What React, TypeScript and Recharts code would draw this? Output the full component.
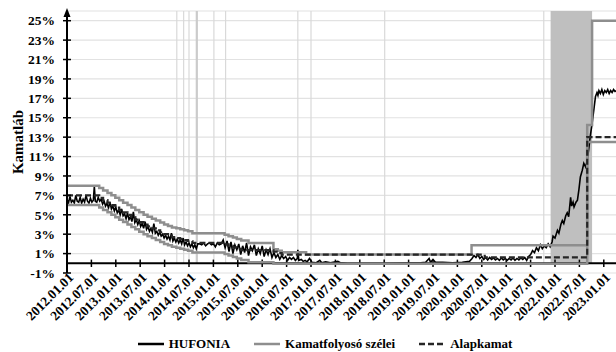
import React from "react";
import {
  LineChart,
  Line,
  XAxis,
  YAxis,
  CartesianGrid,
  Legend,
  ReferenceLine,
  ReferenceArea,
  ReferenceDot,
} from "recharts";

document.body.style.margin = "0";

const FONT = '"Liberation Serif", "Times New Roman", serif';

const tickLabels = [
  "2012.01.01", "2012.07.01", "2013.01.01", "2013.07.01", "2014.01.01", "2014.07.01",
  "2015.01.01", "2015.07.01", "2016.01.01", "2016.07.01", "2017.01.01", "2017.07.01",
  "2018.01.01", "2018.07.01", "2019.01.01", "2019.07.01", "2020.01.01", "2020.07.01",
  "2021.01.01", "2021.07.01", "2022.01.01", "2022.07.01", "2023.01.01",
];
const tickValues = tickLabels.map(
  (s) => Number(s.slice(0, 4)) + (s.slice(5, 7) === "07" ? 0.5 : 0)
);
const yTicks = [-1, 1, 3, 5, 7, 9, 11, 13, 15, 17, 19, 21, 23, 25];
const seriesOrder = ["HUFONIA", "Kamatfolyosó szélei", "Alapkamat"];

// thin vertical marker lines and the shaded period
const markerLines = [2014.25, 2014.39, 2014.5, 2015.01, 2015.25, 2016.73, 2017.0, 2018.51, 2021.77];
const markerBold = 2014.66;
const shadeFrom = 2021.91;
const shadeTo = 2022.76;

// HUFONIA [time, %]
const hufonia: [number, number][] = [
  [2012.0, 6.6], [2012.03, 6.2], [2012.06, 6.9], [2012.09, 6.3], [2012.12, 6.5], [2012.15, 6.2],
  [2012.18, 7.0], [2012.21, 6.4], [2012.24, 6.3], [2012.27, 6.8], [2012.3, 6.2], [2012.33, 6.6],
  [2012.36, 6.3], [2012.39, 7.0], [2012.42, 6.4], [2012.45, 6.2], [2012.48, 6.7], [2012.51, 6.3],
  [2012.54, 6.5], [2012.56, 7.9], [2012.58, 6.4], [2012.61, 6.3], [2012.64, 6.8], [2012.67, 6.4],
  [2012.7, 6.6], [2012.73, 6.1], [2012.76, 6.4], [2012.79, 5.9], [2012.82, 6.2], [2012.85, 5.7],
  [2012.88, 6.3], [2012.91, 5.6], [2012.94, 5.9], [2012.97, 5.4], [2013.0, 5.8], [2013.03, 5.2],
  [2013.06, 5.5], [2013.09, 5.0], [2013.12, 5.6], [2013.15, 4.9], [2013.18, 5.1], [2013.21, 4.6],
  [2013.24, 5.2], [2013.27, 4.5], [2013.3, 4.8], [2013.33, 4.3], [2013.36, 5.3], [2013.39, 4.2],
  [2013.42, 4.5], [2013.45, 4.0], [2013.48, 4.4], [2013.51, 3.8], [2013.54, 4.1], [2013.57, 3.6],
  [2013.6, 4.3], [2013.63, 3.5], [2013.66, 3.8], [2013.69, 3.3], [2013.72, 3.6], [2013.75, 3.2],
  [2013.78, 4.1], [2013.81, 3.1], [2013.84, 3.3], [2013.87, 2.9], [2013.9, 3.2], [2013.93, 2.8],
  [2013.96, 3.0], [2013.99, 2.6], [2014.02, 2.9], [2014.05, 2.5], [2014.08, 2.8], [2014.11, 2.4],
  [2014.14, 3.1], [2014.17, 2.3], [2014.2, 2.6], [2014.23, 2.2], [2014.26, 2.5], [2014.29, 2.1],
  [2014.32, 2.4], [2014.35, 2.0], [2014.38, 2.6], [2014.41, 1.9], [2014.44, 2.2], [2014.47, 1.8],
  [2014.5, 2.1], [2014.53, 1.7], [2014.56, 2.0], [2014.59, 1.6], [2014.62, 1.9], [2014.65, 1.5],
  [2014.68, 2.0], [2014.72, 2.0], [2014.76, 1.9], [2014.8, 2.1], [2014.84, 1.8], [2014.88, 2.0],
  [2014.92, 2.1], [2014.96, 1.9], [2015.0, 2.0], [2015.04, 1.7], [2015.08, 2.1], [2015.12, 1.9],
  [2015.16, 2.0], [2015.2, 2.4], [2015.24, 1.6], [2015.28, 2.3], [2015.32, 1.2], [2015.36, 2.2],
  [2015.4, 1.0], [2015.44, 1.9], [2015.48, 1.4], [2015.52, 2.0], [2015.56, 0.9], [2015.6, 1.8],
  [2015.64, 1.1], [2015.68, 2.1], [2015.72, 0.8], [2015.76, 1.7], [2015.8, 1.3], [2015.84, 1.9],
  [2015.88, 0.8], [2015.92, 1.5], [2015.96, 1.0], [2016.0, 1.8], [2016.04, 0.7], [2016.08, 1.4],
  [2016.12, 0.9], [2016.16, 1.5], [2016.2, 0.6], [2016.24, 1.1], [2016.28, 0.6], [2016.32, 0.9],
  [2016.36, 0.4], [2016.4, 0.8], [2016.44, 0.5], [2016.48, 0.7], [2016.52, 0.3], [2016.56, 0.6],
  [2016.6, 0.4], [2016.64, 0.6], [2016.68, 0.3], [2016.72, 0.5], [2016.73, 1.4], [2016.75, 0.3],
  [2016.8, 0.4], [2016.84, 0.2], [2016.88, 0.3], [2016.92, 0.15], [2016.97, 0.5], [2017.02, 0.1],
  [2017.1, 0.05], [2017.18, 0.3], [2017.22, 0.05], [2017.3, 0.15], [2017.4, 0.05], [2017.55, 0.2],
  [2017.6, 0.05], [2017.75, -0.05], [2018.5, -0.05], [2019.25, 0.05], [2019.35, 0.1], [2019.42, 0.5],
  [2019.45, 0.1], [2019.5, 0.4], [2019.55, 0.1], [2019.7, 0.1], [2019.9, 0.05], [2020.1, 0.1],
  [2020.25, 0.2], [2020.3, 0.5], [2020.34, 0.8], [2020.38, 0.6], [2020.42, 0.9], [2020.46, 0.5],
  [2020.5, 0.7], [2020.54, 0.4], [2020.58, 0.6], [2020.62, 0.35], [2020.66, 0.6], [2020.7, 0.4],
  [2020.74, 0.55], [2020.78, 0.35], [2020.82, 0.5], [2020.86, 0.3], [2020.9, 0.55], [2020.94, 0.35],
  [2020.98, 0.5], [2021.02, 0.3], [2021.06, 0.5], [2021.1, 0.35], [2021.14, 0.55], [2021.18, 0.3],
  [2021.22, 0.5], [2021.26, 0.35], [2021.3, 0.55], [2021.34, 0.4], [2021.38, 0.6], [2021.42, 0.3],
  [2021.46, 0.7], [2021.5, 0.9], [2021.54, 1.3], [2021.58, 1.1], [2021.62, 1.6], [2021.66, 1.3],
  [2021.7, 1.9], [2021.74, 1.5], [2021.78, 1.8], [2021.82, 1.6], [2021.86, 2.0], [2021.9, 1.7],
  [2021.94, 2.2], [2021.96, 2.8], [2022.0, 2.6], [2022.05, 3.4], [2022.08, 3.1], [2022.12, 4.0],
  [2022.15, 4.4], [2022.18, 4.1], [2022.22, 4.9], [2022.25, 5.2], [2022.28, 4.8], [2022.32, 6.8],
  [2022.34, 5.9], [2022.37, 6.3], [2022.39, 5.8], [2022.43, 6.3], [2022.46, 6.5], [2022.49, 7.6],
  [2022.52, 8.9], [2022.56, 9.6], [2022.59, 10.3], [2022.63, 9.9], [2022.66, 10.6], [2022.69, 11.7],
  [2022.72, 13.0], [2022.76, 14.4], [2022.8, 16.0], [2022.83, 17.2], [2022.86, 17.6], [2022.88, 17.3],
  [2022.9, 17.8], [2022.93, 17.5], [2022.96, 17.9], [2022.99, 17.4], [2023.02, 17.8], [2023.05, 17.6],
  [2023.08, 17.9], [2023.11, 17.5], [2023.14, 17.8], [2023.17, 17.6], [2023.2, 17.9], [2023.23, 17.7],
  [2023.26, 17.8],
];

// interest rate corridor, upper edge
const corridorUpper: [number, number][] = [
  [2012.0, 8.0], [2012.66, 7.75], [2012.74, 7.5], [2012.83, 7.25], [2012.91, 7.0], [2012.99, 6.75],
  [2013.07, 6.5], [2013.15, 6.25], [2013.24, 6.0], [2013.32, 5.75], [2013.4, 5.5], [2013.48, 5.25],
  [2013.57, 5.0], [2013.65, 4.8], [2013.74, 4.6], [2013.82, 4.4], [2013.91, 4.2], [2013.99, 4.0],
  [2014.07, 3.85], [2014.15, 3.7], [2014.24, 3.6], [2014.32, 3.5], [2014.4, 3.4], [2014.48, 3.3],
  [2014.57, 3.1], [2015.23, 2.95], [2015.31, 2.8], [2015.4, 2.65], [2015.48, 2.5], [2015.57, 2.35],
  [2015.72, 2.1], [2016.23, 1.45], [2016.32, 1.3], [2016.4, 1.15], [2016.9, 0.9], [2020.29, 1.85],
  [2022.66, 14.25], [2022.76, 25.0], [2023.3, 25.0],
];

// interest rate corridor, lower edge
const corridorLower: [number, number][] = [
  [2012.0, 6.0], [2012.66, 5.75], [2012.74, 5.5], [2012.83, 5.25], [2012.91, 5.0], [2012.99, 4.75],
  [2013.07, 4.5], [2013.15, 4.25], [2013.24, 4.0], [2013.32, 3.75], [2013.4, 3.5], [2013.48, 3.25],
  [2013.57, 3.0], [2013.65, 2.8], [2013.74, 2.6], [2013.82, 2.4], [2013.91, 2.2], [2013.99, 2.0],
  [2014.07, 1.85], [2014.15, 1.7], [2014.24, 1.6], [2014.32, 1.5], [2014.4, 1.4], [2014.48, 1.3],
  [2014.57, 1.1], [2015.23, 0.95], [2015.31, 0.8], [2015.4, 0.65], [2015.48, 0.5], [2015.57, 0.35],
  [2015.72, 0.1], [2016.23, -0.05], [2022.66, 12.5], [2023.3, 12.5],
];

// base rate
const baseRate: [number, number][] = [
  [2012.0, 7.0], [2012.66, 6.75], [2012.74, 6.5], [2012.83, 6.25], [2012.91, 6.0], [2012.99, 5.75],
  [2013.07, 5.5], [2013.15, 5.25], [2013.24, 5.0], [2013.32, 4.75], [2013.4, 4.5], [2013.48, 4.25],
  [2013.57, 4.0], [2013.65, 3.8], [2013.74, 3.6], [2013.82, 3.4], [2013.91, 3.2], [2013.99, 3.0],
  [2014.07, 2.85], [2014.15, 2.7], [2014.24, 2.6], [2014.32, 2.5], [2014.4, 2.4], [2014.48, 2.3],
  [2014.57, 2.1], [2015.23, 1.95], [2015.31, 1.8], [2015.4, 1.65], [2015.48, 1.5], [2015.57, 1.35],
  [2016.23, 1.2], [2016.32, 1.05], [2016.4, 0.9], [2020.56, 0.6], [2022.66, 13.0], [2023.3, 13.0],
];

const toRows = (pts: [number, number][]) => pts.map(([t, v]) => ({ t, v }));

const XTick = (props: any) => {
  const { x, y, payload } = props;
  const i = tickValues.indexOf(payload.value);
  const ax = x + 4;
  return (
    <text
      x={ax}
      y={y}
      dy="0.35em"
      textAnchor="end"
      transform={`rotate(-45 ${ax} ${y})`}
      fontFamily={FONT}
      fontWeight="bold"
      fontSize={13.5}
      fill="#000"
    >
      {i >= 0 ? tickLabels[i] : ""}
    </text>
  );
};

const YTick = (props: any) => {
  const { x, y, payload } = props;
  return (
    <g>
      <line x1={x + 8} x2={x + 16} y1={y} y2={y} stroke="#000" strokeWidth={1.5} />
      <text
        x={x}
        y={y}
        dy="0.35em"
        textAnchor="end"
        fontFamily={FONT}
        fontWeight="bold"
        fontSize={13.5}
        fill="#000"
      >
        {payload.value}%
      </text>
    </g>
  );
};

const LegendContent = (props: any) => {
  const items = (props.payload || [])
    .filter((p: any) => seriesOrder.includes(p.value))
    .sort((a: any, b: any) => seriesOrder.indexOf(a.value) - seriesOrder.indexOf(b.value));
  return (
    <div
      style={{
        display: "flex",
        justifyContent: "center",
        gap: 24,
        paddingLeft: 34,
        fontFamily: FONT,
        fontWeight: "bold",
        fontSize: 13,
      }}
    >
      {items.map((p: any) => (
        <div key={p.value} style={{ display: "flex", alignItems: "center", gap: 5 }}>
          <svg width={26} height={6}>
            <line
              x1={0}
              x2={26}
              y1={3}
              y2={3}
              stroke={p.color}
              strokeWidth={2.5}
              strokeDasharray={p.payload?.strokeDasharray}
            />
          </svg>
          <span>{p.value}</span>
        </div>
      ))}
    </div>
  );
};

const Arrow = (props: any) => {
  const { cx, cy } = props;
  return <path d={`M${cx - 3.5},${cy + 6} L${cx},${cy - 3} L${cx + 3.5},${cy + 6} Z`} fill="#000" />;
};

function App() {
  return (
    <LineChart
      width={616}
      height={352}
      margin={{ top: 11, right: 0, bottom: 19, left: 7 }}
    >
      <CartesianGrid vertical={false} stroke="#e2e2e2" strokeWidth={1.2} />
      <ReferenceArea
        x1={shadeFrom}
        x2={shadeTo}
        y1={0}
        y2={26}
        fill="#bfbfbf"
        fillOpacity={1}
        stroke="none"
      />
      {markerLines.map((m) => (
        <ReferenceLine
          key={m}
          segment={[{ x: m, y: 0 }, { x: m, y: 26 }]}
          stroke="#d9d9d9"
          strokeWidth={1.2}
        />
      ))}
      <ReferenceLine
        segment={[{ x: markerBold, y: 0 }, { x: markerBold, y: 26 }]}
        stroke="#cbcbcb"
        strokeWidth={2.2}
      />
      <XAxis
        type="number"
        dataKey="t"
        domain={[2012, 2023.25]}
        allowDataOverflow
        ticks={tickValues}
        interval={0}
        height={60}
        tickSize={0}
        tickMargin={2}
        axisLine={false}
        tickLine={false}
        tick={<XTick />}
      />
      <YAxis
        type="number"
        domain={[-1, 26]}
        allowDataOverflow
        ticks={yTicks}
        interval={0}
        width={60}
        tickSize={0}
        tickMargin={12}
        tickLine={false}
        axisLine={{ stroke: "#000", strokeWidth: 2 }}
        tick={<YTick />}
        label={{
          value: "Kamatláb",
          angle: -90,
          position: "insideLeft",
          offset: 11,
          style: { fontFamily: FONT, fontWeight: "bold", fontSize: 15, fill: "#000", textAnchor: "middle" },
        }}
      />
      <ReferenceLine y={0} stroke="#000" strokeWidth={2} />
      {tickValues.map((t) => (
        <ReferenceLine
          key={"tk" + t}
          segment={[{ x: t, y: -0.38 }, { x: t, y: 0.38 }]}
          stroke="#000"
          strokeWidth={1.5}
        />
      ))}
      <ReferenceDot x={2012} y={26} r={0} ifOverflow="visible" shape={<Arrow />} />
      <Line
        data={toRows(hufonia)}
        dataKey="v"
        name="HUFONIA"
        type="linear"
        stroke="#000"
        strokeWidth={1.6}
        dot={false}
        isAnimationActive={false}
      />
      <Line
        data={toRows(corridorUpper)}
        dataKey="v"
        name="Kamatfolyosó szélei"
        type="stepAfter"
        stroke="#8e8e8e"
        strokeWidth={2.5}
        dot={false}
        isAnimationActive={false}
      />
      <Line
        data={toRows(corridorLower)}
        dataKey="v"
        name="lower"
        legendType="none"
        type="stepAfter"
        stroke="#8e8e8e"
        strokeWidth={2.5}
        dot={false}
        isAnimationActive={false}
      />
      <Line
        data={toRows(baseRate)}
        dataKey="v"
        name="Alapkamat"
        type="stepAfter"
        stroke="#262626"
        strokeWidth={2.2}
        strokeDasharray="6 3"
        dot={false}
        isAnimationActive={false}
      />
      <Legend
        layout="horizontal"
        verticalAlign="middle"
        align="center"
        wrapperStyle={{ top: 336, left: 0, width: 616 }}
        content={<LegendContent />}
      />
    </LineChart>
  );
}

export default App;
